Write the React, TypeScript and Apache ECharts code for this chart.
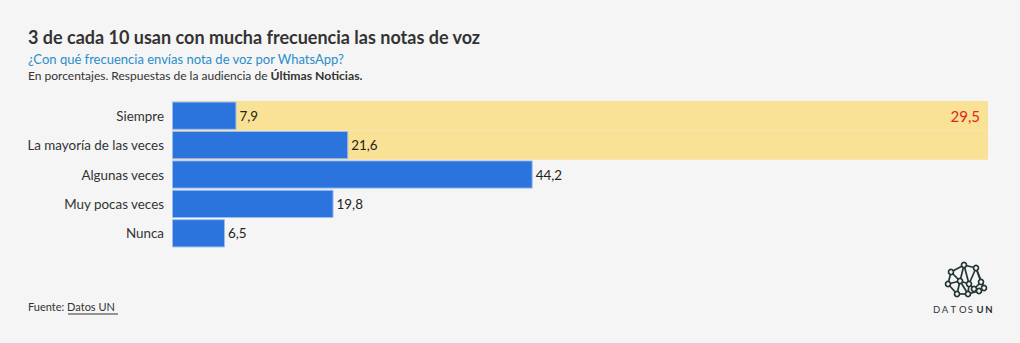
import React, { useEffect, useRef } from "react";
import * as echarts from "echarts";

const categories = ["Siempre", "La mayoría de las veces", "Algunas veces", "Muy pocas veces", "Nunca"];
const values = [7.9, 21.6, 44.2, 19.8, 6.5];
const highlight = [100, 100, "-", "-", "-"];
const highlightTotal = 29.5;

const FONT = "Lato, 'Noto Sans', sans-serif";
const fmt = (v: number) => v.toFixed(1).replace(".", ",");

const nodes: [number, number][] = [
  [951, 272], [964, 265], [976, 268], [960, 281], [948, 284], [969, 284],
  [981, 282], [974, 289], [957, 294], [968, 294], [979, 291], [984, 288],
];
const edges: [number, number][] = [
  [0, 1], [1, 2], [0, 3], [0, 4], [1, 3], [3, 4], [3, 5], [2, 5], [2, 6], [2, 11],
  [5, 7], [6, 7], [6, 11], [4, 8], [3, 8], [3, 9], [5, 9], [8, 9], [9, 10], [7, 10], [10, 11], [1, 5],
];
const logoLetters = ["D", "A", "T", "O", "S", "U", "N"];

export default function App() {
  const ref = useRef<HTMLDivElement>(null);
  useEffect(() => {
    const chart = echarts.init(ref.current!, null, { renderer: "svg" });
    const graphics: any[] = [
      { type: "text", left: 28, top: 28, style: { text: "3 de cada 10 usan con mucha frecuencia las notas de voz", font: `bold 18px ${FONT}`, fill: "#333" } },
      { type: "text", left: 28, top: 52, style: { text: "¿Con qué frecuencia envías nota de voz por WhatsApp?", font: `13px ${FONT}`, fill: "#2a8dcb" } },
      {
        type: "text", left: 28, top: 69,
        style: {
          text: "{a|En porcentajes. Respuestas de la audiencia de }{b|Últimas Noticias.}",
          rich: {
            a: { font: `12px ${FONT}`, fill: "#333" },
            b: { font: `bold 12.2px ${FONT}`, fill: "#333" },
          },
        },
      },
      {
        type: "text", left: 28, top: 301,
        style: {
          text: "{a|Fuente: }{b|Datos UN}",
          rich: { a: { font: `11px ${FONT}`, fill: "#333" }, b: { font: `11px ${FONT}`, fill: "#333" } },
        },
      },
      { type: "line", shape: { x1: 68, y1: 314, x2: 118, y2: 314 }, style: { stroke: "#333", lineWidth: 1 } },
    ];
    logoLetters.forEach((ch, i) => {
      graphics.push({
        type: "text", x: 933 + i * 8.7, y: 304,
        style: { text: ch, font: `${i >= 5 ? "bold " : ""}9.5px ${FONT}`, fill: i >= 5 ? "#1f2f2f" : "#333" },
      });
    });
    edges.forEach(([a, b]) => {
      graphics.push({ type: "line", shape: { x1: nodes[a][0], y1: nodes[a][1], x2: nodes[b][0], y2: nodes[b][1] }, style: { stroke: "#243636", lineWidth: 1.7 } });
    });
    nodes.forEach(([x, y]) => {
      graphics.push({ type: "circle", shape: { cx: x, cy: y, r: 2.5 }, style: { fill: "#f5f5f5", stroke: "#243636", lineWidth: 1.7 } });
    });

    chart.setOption({
      animation: false,
      backgroundColor: "#f5f5f5",
      textStyle: { fontFamily: FONT },
      grid: { left: 172, top: 101, width: 816, height: 147, containLabel: false },
      xAxis: { type: "value", min: 0, max: 100, show: false },
      yAxis: [
        {
          type: "category", data: categories, inverse: true,
          axisLine: { show: false }, axisTick: { show: false },
          axisLabel: { color: "#333", fontSize: 13.4, margin: 8, fontFamily: FONT },
        },
        { type: "category", data: categories, inverse: true, show: false },
      ],
      series: [
        {
          type: "bar", yAxisIndex: 1, data: highlight, barCategoryGap: "0%", silent: true,
          itemStyle: { color: "#f9e196" },
          label: {
            show: true, position: "insideRight", distance: 8,
            formatter: (p: any) => (p.dataIndex === 0 ? fmt(highlightTotal) : ""),
            color: "#e0251b", fontSize: 15, fontFamily: FONT,
          },
        },
        {
          type: "bar", yAxisIndex: 0, data: values, barCategoryGap: "4%",
          itemStyle: { color: "#2b73dd", borderColor: "#9cbcf0", borderWidth: 1 },
          label: { show: true, position: "right", distance: 3, color: "#222", fontSize: 13.4, fontFamily: FONT, formatter: (p: any) => fmt(p.value) },
        },
      ],
      graphic: graphics,
    });
    return () => chart.dispose();
  }, []);
  return <div ref={ref} style={{ width: 1020, height: 343, position: "absolute", left: 0, top: 0 }} />;
}
